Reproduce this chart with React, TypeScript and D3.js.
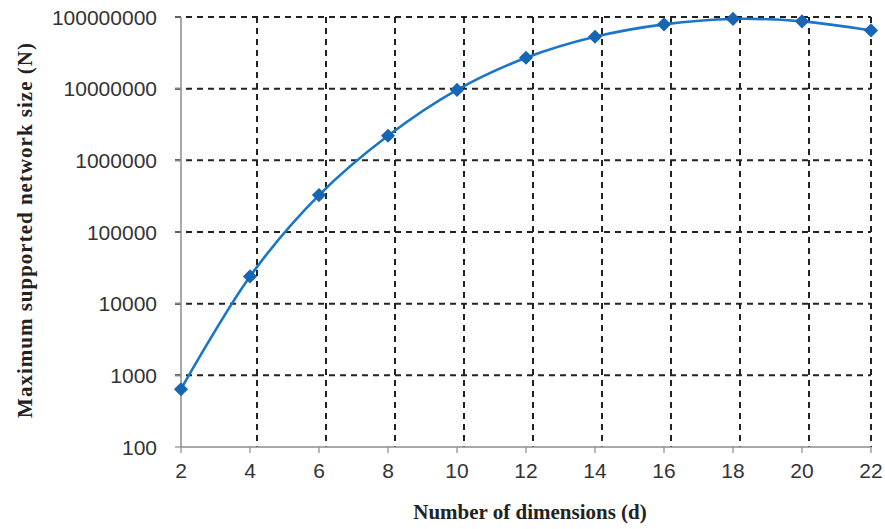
import * as d3 from "d3";

// values
const dims = [2, 4, 6, 8, 10, 12, 14, 16, 18, 20, 22];
const maxSize = [640, 24000, 327000, 2200000, 9600000, 27000000, 53000000, 79000000, 94000000, 87000000, 65000000];
const xTicks = [2, 4, 6, 8, 10, 12, 14, 16, 18, 20, 22];
const yTicks = [100, 1000, 10000, 100000, 1000000, 10000000, 100000000];

export default function App() {
    const width = 885;
    const height = 529;
    const left = 181;
    const right = 871;
    const top = 17;
    const bottom = 447;

    const x = d3.scaleLinear().domain([2, 22]).range([left, right]);
    const y = d3.scaleLog().domain([100, 100000000]).range([bottom, top]);

    // the dashed grid in the original sits a few px right of the ticks
    const gridShift = 7;

    const line = d3.line<number>()
        .x((d, i) => x(dims[i]))
        .y((d) => y(d))
        .curve(d3.curveCatmullRom.alpha(0.5));

    const diamond = d3.symbol().type(d3.symbolSquare).size(100)();

    const sans = "'Liberation Sans', Arial, sans-serif";
    const serif = "'Liberation Serif', 'Times New Roman', serif";

    return (
        <svg width={width} height={height} style={{ position: "absolute", left: 0, top: 0, background: "#fff" }}>
            {/* horizontal grid */}
            {yTicks.slice(1).map((v) => (
                <line
                    key={"h" + v}
                    x1={left - 6}
                    x2={right}
                    y1={y(v)}
                    y2={y(v)}
                    stroke="#222"
                    strokeWidth={2}
                    strokeDasharray="6 5"
                />
            ))}
            {/* vertical grid */}
            {xTicks.slice(1).map((v) => (
                <line
                    key={"v" + v}
                    x1={Math.min(x(v) + gridShift, right)}
                    x2={Math.min(x(v) + gridShift, right)}
                    y1={top}
                    y2={bottom}
                    stroke="#222"
                    strokeWidth={2}
                    strokeDasharray="6 5"
                />
            ))}

            {/* axes */}
            <line x1={left} x2={left} y1={top} y2={bottom} stroke="#8c8c8c" strokeWidth={1.5} />
            <line x1={left} x2={right} y1={bottom} y2={bottom} stroke="#8c8c8c" strokeWidth={1.5} />
            {xTicks.map((v) => (
                <g key={"xt" + v}>
                    <line x1={x(v)} x2={x(v)} y1={bottom} y2={bottom + 6} stroke="#8c8c8c" strokeWidth={1.2} />
                    <text
                        x={x(v)}
                        y={bottom + 31}
                        textAnchor="middle"
                        fontFamily={sans}
                        fontSize={21}
                        fill="#333"
                    >
                        {v}
                    </text>
                </g>
            ))}
            {yTicks.map((v) => (
                <g key={"yt" + v}>
                    <line x1={left - 6} x2={left} y1={y(v)} y2={y(v)} stroke="#8c8c8c" strokeWidth={1.2} />
                    <text
                        x={157}
                        y={y(v)}
                        textAnchor="end"
                        dominantBaseline="central"
                        fontFamily={sans}
                        fontSize={21}
                        fill="#333"
                    >
                        {v}
                    </text>
                </g>
            ))}

            {/* series */}
            <path d={line(maxSize) ?? ""} fill="none" stroke="#1a76c8" strokeWidth={2.6} />
            {maxSize.map((v, i) => (
                <path
                    key={"p" + i}
                    d={diamond ?? ""}
                    transform={`translate(${x(dims[i])},${y(v)}) rotate(45)`}
                    fill="#1766b5"
                />
            ))}

            {/* axis titles */}
            <text
                x={530}
                y={519}
                textAnchor="middle"
                fontFamily={serif}
                fontWeight="bold"
                fontSize={21}
                fill="#222"
            >
                Number of dimensions (d)
            </text>
            <text
                transform={`translate(32, 230) rotate(-90)`}
                textAnchor="middle"
                fontFamily={serif}
                fontWeight="bold"
                fontSize={21}
                letterSpacing={1}
                fill="#222"
            >
                Maximum supported network size (N)
            </text>
        </svg>
    );
}
